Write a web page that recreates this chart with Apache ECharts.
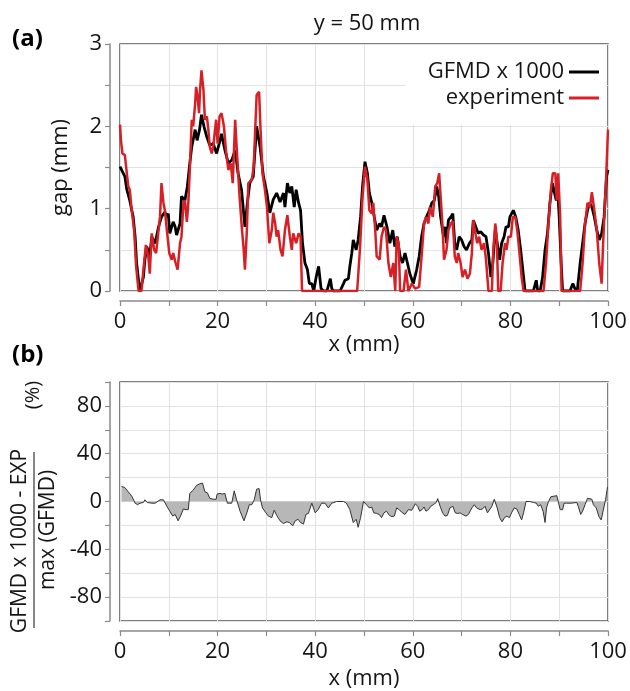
<!DOCTYPE html>
<html>
<head>
<meta charset="utf-8">
<script src="https://cdn.jsdelivr.net/npm/echarts@6/dist/echarts.min.js"></script>
<style>
  html, body { margin: 0; background: #fff; }
  #chart { width: 630px; height: 691px; }
</style>
</head>
<body>
<div id="chart"></div>
<script>
// (a) gap profile at y = 50 mm
const gfmdX = [0, 0.5, 1, 1.4, 2, 2.7, 3.1, 3.4, 3.8, 4.1, 4.4, 4.8, 5.1, 5.5, 6.1, 6.5, 7.2, 7.9, 8.5, 9.2, 9.6, 9.9,
  10.2, 10.9, 11.3, 11.6, 12.3, 12.6, 13.3, 13.8, 14.3, 14.7, 15.4, 15.8, 16.3, 16.7, 17.2, 17.8, 18.4, 19.1, 19.8,
  20.5, 20.8, 21.5, 22.2, 22.9, 23.6, 24.2, 24.9, 25.6, 26.1, 26.6, 27.3, 28, 28.7, 29.4, 30.1, 30.7, 31.4, 32.1,
  32.8, 33.5, 33.8, 34.3, 34.8, 35.2, 35.7, 36.1, 36.6, 37, 37.4, 37.9, 38.4, 38.8, 39.3, 39.7, 40.2, 40.7, 41.2,
  41.7, 42.4, 43.1, 43.4, 43.7, 45.1, 45.8, 46.1, 46.8, 47.1, 47.5, 47.8, 48.4, 48.8, 49.3, 49.7, 50.2, 50.7, 51.1,
  51.6, 52.1, 52.6, 53.2, 53.6, 54.1, 54.7, 55.3, 55.9, 56.3, 56.8, 57.4, 57.9, 58.4, 58.9, 59.4, 60.1, 60.8, 61.3,
  61.8, 62.3, 62.8, 63.4, 63.9, 64.4, 64.9, 65.3, 65.7, 66.3, 66.6, 66.9, 67.3, 67.8, 68.2, 68.6, 69, 69.5, 70,
  70.5, 71, 71.6, 72.1, 72.4, 72.9, 73.4, 73.9, 74.5, 75, 75.5, 76, 76.4, 76.9, 77.3, 77.8, 78.2, 78.7, 79.1, 79.6,
  79.9, 80.6, 81.1, 81.6, 82.1, 82.7, 83, 84.7, 85.3, 85.6, 86.1, 86.6, 87.1, 87.6, 88.1, 88.6, 88.9, 89.4, 89.6,
  90, 90.4, 90.7, 92.2, 92.8, 93.2, 93.7, 94.3, 94.8, 95.3, 95.8, 96.2, 96.7, 97.2, 97.7, 98.2, 98.7, 99.2, 99.7, 100];
const gfmdY = [1.51, 1.45, 1.39, 1.23, 1.1, 0.9, 0.66, 0.34, 0.13, 0, 0, 0.17, 0.38, 0.54, 0.42, 0.66, 0.58, 0.78, 0.9, 0.96, 0.9, 0.94,
  0.7, 0.84, 0.78, 0.68, 0.82, 1.15, 1.1, 1.27, 1.55, 1.75, 1.96, 1.83, 1.96, 2.14, 2.0, 1.87, 1.77, 1.79, 1.67,
  1.83, 1.91, 1.71, 1.55, 1.59, 1.71, 1.43, 1.23, 0.78, 1.07, 1.31, 1.39, 2.0, 1.75, 1.39, 1.19, 0.95, 1.11, 1.19,
  1.08, 1.19, 1.02, 1.31, 1.19, 1.27, 1.02, 1.23, 1.07, 0.98, 0.58, 0.34, 0.26, 0.09, 0.09, 0, 0.17, 0.3, 0.03,
  0, 0, 0.15, 0.03, 0, 0, 0.09, 0.13, 0.15, 0.3, 0.46, 0.62, 0.5, 0.62, 0.9, 1.27, 1.57, 1.43, 1.19,
  1.07, 0.9, 0.74, 0.82, 0.78, 0.92, 0.78, 0.58, 0.74, 0.54, 0.66, 0.42, 0.34, 0.46, 0.34, 0.21, 0.09, 0.26, 0.42,
  0.66, 0.82, 0.9, 0.98, 1.07, 1.1, 1.27, 1.15, 0.9, 0.66, 0.78, 0.58, 0.86, 0.9, 0.94, 0.58, 0.5, 0.66, 0.62,
  0.54, 0.5, 0.58, 0.62, 0.86, 0.78, 0.7, 0.72, 0.68, 0.66, 0.46, 0.17, 0.34, 0.74, 0.58, 0.38, 0.58, 0.66, 0.78, 0.78,
  0.9, 0.98, 0.9, 0.74, 0.5, 0.17, 0, 0, 0.13, 0, 0, 0.17, 0.5, 0.7, 1.07, 1.31, 1.23, 1.1, 1.31,
  0.9, 0.34, 0, 0, 0.09, 0.03, 0, 0.34, 0.58, 0.82, 0.98, 1.07, 1.02, 0.9, 0.74, 0.62, 0.7, 0.9, 1.39, 1.47];

const expX = [0, 0.2, 0.5, 1, 1.4, 1.7, 2, 2.4, 2.9, 3.3, 3.8, 4.4, 4.8, 5.3, 5.8, 6.1, 6.5, 7, 7.4, 7.9, 8.2, 8.5, 8.9,
  9.2, 9.6, 10.1, 10.6, 10.9, 11.4, 11.8, 12.3, 12.6, 13, 13.3, 13.7, 14, 14.3, 14.7, 15, 15.4, 15.6, 15.9, 16.2,
  16.4, 16.7, 17.1, 17.4, 17.8, 18.1, 18.4, 18.8, 19.1, 19.7, 20, 20.4, 20.8, 21.3, 21.7, 22.2, 22.7, 23.1, 23.6,
  23.9, 24.5, 25, 25.3, 25.6, 26, 26.3, 27, 27.4, 28, 28.5, 28.8, 29.2, 29.7, 30.1, 30.6, 31.1, 31.4, 31.8, 32.1,
  32.4, 32.9, 33.3, 33.8, 34.3, 34.8, 35.2, 35.5, 36.1, 36.6, 37, 37.3, 48.6, 49.2, 49.7, 50.2, 50.7, 51.1, 51.6,
  51.9, 52.3, 52.6, 53.2, 53.6, 54.1, 54.5, 55, 55.5, 56, 56.4, 56.7, 57.1, 57.4, 58.1, 58.6, 59.1, 59.8, 60.5,
  61.3, 61.8, 62.3, 62.7, 63.2, 63.5, 64.1, 64.6, 65, 65.4, 65.7, 66.1, 66.4, 66.9, 67.3, 67.8, 68.2, 68.6, 69,
  69.3, 69.8, 70.2, 70.7, 71.2, 71.7, 72.1, 72.4, 72.7, 73.2, 73.6, 74.1, 74.6, 75, 75.5, 76.2, 76.5, 76.9, 77.2,
  77.5, 78, 78.4, 78.9, 79.2, 79.6, 80.1, 80.5, 81, 81.4, 81.8, 82.3, 82.7, 86.8, 87.3, 87.8, 88.3, 88.7, 89.2,
  89.5, 89.8, 90.2, 90.5, 94.3, 94.8, 95.3, 95.8, 96.3, 96.7, 97.2, 97.7, 98.2, 98.7, 99, 99.6, 100];
const expY = [2.02, 1.83, 1.67, 1.65, 1.43, 1.27, 1.23, 0.98, 0.74, 0.3, 0, 0, 0.26, 0.56, 0.42, 0.21, 0.7, 0.5, 0.46, 0.74, 0.9, 1.31, 1.07,
  0.98, 0.74, 0.46, 0.38, 0.46, 0.34, 0.26, 0.58, 0.66, 1.07, 1.1, 0.84, 1.07, 1.47, 2.08, 2.0, 2.28, 2.48, 2.36, 2.16,
  2.44, 2.68, 2.44, 2.08, 2.12, 1.96, 1.75, 1.67, 1.75, 2.08, 1.79, 2.12, 2.16, 2.0, 1.71, 1.47, 1.55, 1.31, 2.08,
  1.75, 1.15, 0.74, 0.54, 0.26, 0.74, 1.31, 1.35, 1.51, 2.38, 2.42, 1.96, 1.43, 1.23, 1.03, 0.58, 0.74, 0.95, 0.82, 0.66,
  0.74, 0.5, 0.42, 0.74, 0.92, 0.66, 0.5, 0.7, 0.58, 0.7, 0.66, 0, 0, 0.54, 1.15, 1.51, 1.35, 0.98, 0.94,
  1.07, 0.74, 0.42, 0.38, 0.66, 0.78, 0.74, 0.34, 0.17, 0.34, 0, 0.66, 0.58, 0, 0, 0.26, 0, 0.09, 0.03,
  0.05, 0.42, 0.82, 0.9, 0.82, 1.02, 0.9, 1.27, 1.31, 1.43, 1.15, 0.78, 0.38, 0.5, 0.74, 0.82, 0.85, 0.42, 0.34,
  0.46, 0.34, 0.17, 0.26, 0.15, 0.21, 0.46, 0.86, 0.74, 0.58, 0.66, 0.5, 0.58, 0.38, 0, 0, 0.5, 0.82, 0.66,
  0, 0, 0.34, 0.58, 0.5, 0.66, 0.66, 0.9, 0.9, 0.74, 0.5, 0.17, 0, 0, 0.34, 0.82, 1.23, 1.43, 1.43,
  1.1, 1.43, 0.9, 0, 0, 0.34, 0.82, 1.07, 1.02, 1.2, 0.98, 0.74, 0.34, 0.09, 0.58, 1.35, 1.96];

// (b) relative difference in %
const diffX = [0.3, 1, 1.7, 2.4, 3.1, 3.6, 4.1, 4.8, 5.1, 5.6, 6, 6.5, 7.2, 7.5, 8.2, 8.9, 9.6, 10.2, 10.8, 11.3, 11.9,
  12.4, 13, 13.5, 14, 14.3, 15, 15.7, 16.4, 16.9, 17.4, 17.9, 18.4, 19.1, 19.7, 19.9, 20.5, 21, 21.5, 22, 22.9, 23.4,
  23.9, 24.6, 25.4, 26, 26.5, 27, 27.5, 28, 28.5, 28.8, 29.2, 29.9, 30.4, 31.1, 31.6, 32.1, 32.8, 33.5, 34.2, 34.7,
  35.4, 35.9, 36.5, 37, 37.6, 38.1, 38.6, 39.3, 40, 40.6, 41.3, 42, 42.7, 43.4, 44.4, 45.8, 46.4, 47.1, 47.8, 48.4,
  48.8, 49.3, 49.9, 50.2, 50.5, 51.1, 51.6, 52, 52.6, 53.1, 53.6, 54.1, 54.6, 55.2, 55.7, 56.2, 56.7, 57.2, 57.7,
  58.4, 59.1, 59.8, 60.5, 61, 61.4, 61.9, 62.3, 62.7, 63.2, 63.7, 64.2, 64.8, 65.1, 65.6, 66.1, 66.6, 67.1, 67.6,
  68.2, 68.7, 69.2, 69.7, 70.2, 70.9, 71.4, 72.1, 72.6, 73.1, 73.8, 74.3, 74.8, 75.3, 75.7, 76.2, 76.7, 77.3, 77.8,
  78.3, 78.8, 79.3, 79.8, 80.3, 80.8, 81.3, 81.8, 82.3, 82.7, 83.2, 84, 84.7, 85.3, 85.7, 86.2, 86.7, 87.1, 87.4,
  87.8, 88.3, 88.7, 89.5, 89.8, 90.2, 90.7, 91, 91.5, 92.5, 93.6, 93.9, 94.4, 94.8, 95.3, 95.8, 96.2, 96.7, 97,
  97.6, 98.1, 98.6, 99, 99.5, 99.9];
const diffY = [12.7, 11.6, 8.1, 4.6, -1.4, -2.7, -1.4, -0.8, 1.4, -0.8, -2.2, -1.4, -1.4, -2.7, 1.4, 1.4, -4, -8.1, -12.2, -10.8, -16.2,
  -12.2, -6.2, -6.8, -6.8, 6.8, 9.5, 13.5, 14.9, 15.4, 8.1, 7.3, 2.7, 1.9, 1.9, 6.2, 6.8, 6.2, 6.8, -1.4, -1.4, 8.9,
  1.4, -8.1, -16.2, -9.5, -2.7, -2.7, 1.4, 10.3, 10.8, 1.4, -5.4, -9.5, -12.2, -13.5, -7.3, -11.6, -16.2, -18.4, -17, -17.6,
  -20.3, -16.2, -14.9, -17.6, -18.9, -10.8, -10, -1.4, -9.5, -6.8, -1.4, -1.4, -5.4, -1.4, 0, 0, -1.4, -6.8, -17.6, -14.9,
  -21.6, -13.5, 0, 1.4, -2.7, -5.4, -4.6, -9.5, -10, -10.8, -13.5, -9.5, -8.1, -11.6, -12.7, -12.2, -5.4, -6.8, -8.9,
  -10.8, -6.8, -7.3, -1.9, -4, -8.1, -6.8, -4.6, -8.1, -6.8, -4, -2.7, -0.8, 2.4, -4, -9.5, -12.2, -11.6, -5.4,
  -4, -9.5, -10, -9.5, -10.8, -12.2, -10.8, -5.4, -2.7, -5.4, -6.8, -6.2, -4, -9.5, -10.8, -4, 1.9, -5.4, -13.5,
  -17, -13.5, -12.2, -13.5, -8.9, -5.4, -6.2, -10.8, -15.4, -9.5, 0, 0, -0.8, -1.4, -4, -2.7, -8.1, -17.6, -5.4,
  0, 4, 5.1, 4.9, 0, -6.8, -6.8, -1.4, -1.4, -1.4, -0.8, -4, -10.8, -8.1, -2.7, 2.7, 1.4, 1.9, -2.7,
  -5.4, -12.2, -15.4, -14.9, 1.4, 12.2];

const FONT = '"Open Sans", "Noto Sans", sans-serif';
const TXT = '#151515';
const AX = '#8a8a8a';

const pairs = (xs, ys) => xs.map((x, i) => [x, ys[i]]);

function xAxisFor(gridIndex, nameGap) {
  return {
    type: 'value', gridIndex, min: 0, max: 100, interval: 10, offset: 10,
    name: 'x (mm)', nameLocation: 'middle', nameGap,
    nameTextStyle: { fontFamily: FONT, fontSize: 22, color: TXT },
    axisLine: { show: true, onZero: false, lineStyle: { color: AX, width: 1.5 } },
    axisTick: { show: true, length: 5, lineStyle: { color: AX, width: 1.2 } },
    axisLabel: { fontFamily: FONT, fontSize: 22, color: TXT, margin: 10,
      formatter: v => (v % 20 === 0 ? String(v) : '') },
    splitLine: { show: true, lineStyle: { color: '#e2e2e2', width: 1 } }
  };
}

const chart = echarts.init(document.getElementById('chart'));

chart.setOption({
  animation: false,
  backgroundColor: '#fff',
  title: {
    text: 'y = 50 mm', left: 362, top: 8, textAlign: 'center',
    textStyle: { fontFamily: FONT, fontSize: 22, fontWeight: 'normal', color: TXT }
  },
  legend: {
    orient: 'vertical', right: 23, top: 45, align: 'right',
    icon: 'rect', itemWidth: 30, itemHeight: 3, itemGap: 4,
    padding: [16, 8, 16, 22], backgroundColor: '#fff',
    textStyle: { fontFamily: FONT, fontSize: 22, color: TXT },
    data: ['GFMD x 1000', 'experiment']
  },
  grid: [
    { left: 120, right: 22, top: 44, height: 247, show: true, borderColor: '#555', borderWidth: 1.5, backgroundColor: 'transparent' },
    { left: 120, right: 22, top: 382, height: 246, show: true, borderColor: '#555', borderWidth: 1.5, backgroundColor: 'transparent' }
  ],
  xAxis: [xAxisFor(0, 30), xAxisFor(1, 37)],
  yAxis: [
    {
      type: 'value', gridIndex: 0, min: 0, max: 3, interval: 0.5, offset: 10,
      name: 'gap (mm)', nameLocation: 'middle', nameRotate: 90, nameGap: 38,
      nameTextStyle: { fontFamily: FONT, fontSize: 22, color: TXT },
      axisLine: { show: true, onZero: false, lineStyle: { color: AX, width: 1.5 } },
      axisTick: { show: true, length: 5, lineStyle: { color: AX, width: 1.2 } },
      axisLabel: { fontFamily: FONT, fontSize: 22, color: TXT, margin: 8,
        formatter: v => (Number.isInteger(v) ? String(v) : '') },
      splitLine: { show: true, lineStyle: { color: '#e2e2e2', width: 1 } }
    },
    {
      type: 'value', gridIndex: 1, min: -100, max: 100, interval: 20, offset: 10,
      axisLine: { show: true, onZero: false, lineStyle: { color: AX, width: 1.5 } },
      axisTick: { show: true, length: 5, lineStyle: { color: AX, width: 1.2 } },
      axisLabel: { fontFamily: FONT, fontSize: 22, color: TXT, margin: 8,
        formatter: v => (v % 40 === 0 && Math.abs(v) < 100 ? String(v) : '') },
      splitLine: { show: true, lineStyle: { color: '#e2e2e2', width: 1 } }
    }
  ],
  graphic: [
    { type: 'text', left: 12, top: 27, style: { text: '(a)', font: 'bold 24px ' + FONT, fill: '#000' } },
    { type: 'text', left: 12, top: 343, style: { text: '(b)', font: 'bold 24px ' + FONT, fill: '#000' } },
    { type: 'text', x: 20, y: 541, rotation: Math.PI / 2,
      style: { text: 'GFMD x 1000 - EXP', font: '21px ' + FONT, fill: TXT, align: 'center', verticalAlign: 'middle' } },
    { type: 'line', shape: { x1: 34, y1: 452, x2: 34, y2: 628 }, style: { stroke: '#333', lineWidth: 1.2 } },
    { type: 'text', x: 48, y: 530, rotation: Math.PI / 2,
      style: { text: 'max (GFMD)', font: '21px ' + FONT, fill: TXT, align: 'center', verticalAlign: 'middle' } },
    { type: 'text', x: 33, y: 395, rotation: Math.PI / 2,
      style: { text: '(%)', font: '20px ' + FONT, fill: TXT, align: 'center', verticalAlign: 'middle' } }
  ],
  series: [
    {
      name: 'GFMD x 1000', type: 'line', xAxisIndex: 0, yAxisIndex: 0,
      data: pairs(gfmdX, gfmdY), symbol: 'none',
      lineStyle: { color: '#000', width: 2.8 }, itemStyle: { color: '#000' }
    },
    {
      name: 'experiment', type: 'line', xAxisIndex: 0, yAxisIndex: 0,
      data: pairs(expX, expY), symbol: 'none',
      lineStyle: { color: '#d71f26', width: 2.5 }, itemStyle: { color: '#d71f26' }
    },
    {
      name: 'difference', type: 'line', xAxisIndex: 1, yAxisIndex: 1,
      data: pairs(diffX, diffY), symbol: 'none',
      lineStyle: { color: '#333', width: 1 }, itemStyle: { color: '#333' },
      areaStyle: { color: '#b7b7b7', opacity: 1, origin: 'auto' }
    }
  ]
});
</script>
</body>
</html>
